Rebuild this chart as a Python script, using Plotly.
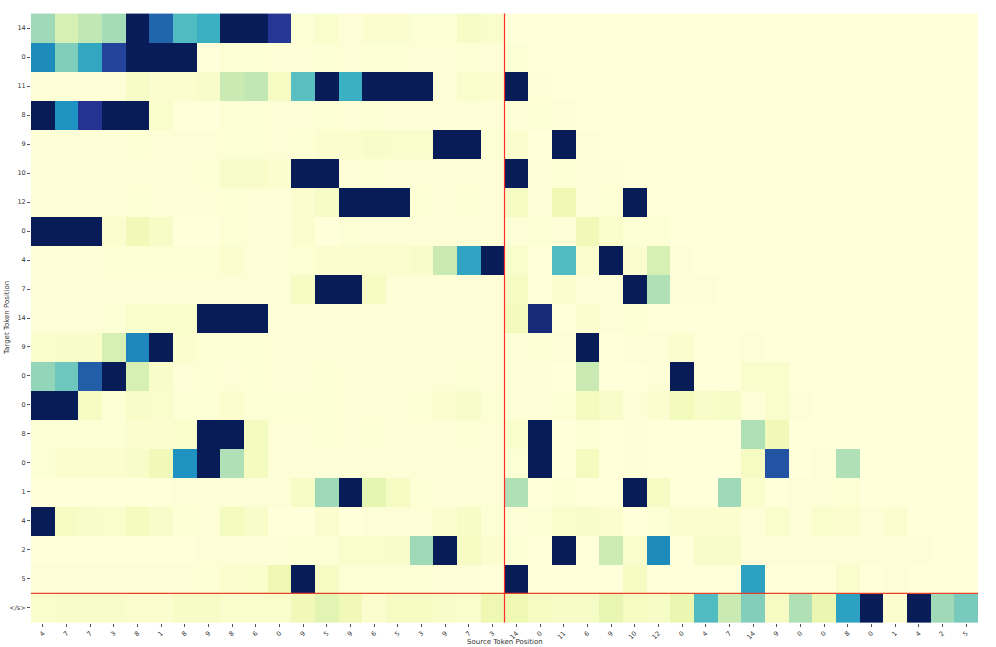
import plotly.graph_objs as go

# source tokens (x) and target tokens (y)
source_labels = ['4', '7', '7', '3', '8', '1', '8', '9', '8', '6',
                 '0', '9', '5', '9', '6', '5', '3', '9', '7', '3',
                 '14', '0', '11', '6', '9', '10', '12', '0', '4', '7',
                 '14', '9', '0', '0', '8', '0', '1', '4', '2', '5']
target_labels = ['14', '0', '11', '8', '9', '10', '12', '0', '4', '7',
                 '14', '9', '0', '0', '8', '0', '1', '4', '2', '5', '&lt;/s&gt;']

# attention weights, one row per target token
weights = [
    [.32, .20, .26, .31, 1, .73, .47, .52, 1, 1, .87, .02, .04, .01, .03, .03, .02, .02, .06, .04] + [0] * 20,
    [.64, .375, .55, .83, 1, 1, 1, 0, .02, .02, .01, .01, .02, .01, .02, .02, .01, .01, .02, .01, .02] + [0] * 19,
    [.01, .01, .01, .01, .06, .03, .03, .05, .24, .26, .07, .45, 1, .52, 1, 1, 1, .01, .04, .03, 1, .01] + [0] * 18,
    [1, .62, .88, 1, 1, .04, 0, 0, .02, .02, .01, .01, .02, .01, .02, .01, .01, .01, .01, .01, .01, .02, .01] + [0] * 17,
    [.01, .01, .01, .01, .02, .01, .01, .01, .02, .02, .01, .02, .03, .03, .05, .04, .04, 1, 1, .02, .03, 0, 1, .01] + [0] * 16,
    [.01, .01, .01, .01, .01, .01, .01, .02, .05, .05, .03, 1, 1, .01, .02, .01, .01, .01, .01, .01, 1, .01, .02, .01, .01] + [0] * 15,
    [.01, .01, .01, .01, .02, .01, .01, .01, .02, .01, .01, .03, .06, 1, 1, 1, .02, .01, .02, .01, .07, .01, .12, .01, .02, 1] + [0] * 14,
    [1, 1, 1, .03, .10, .06, 0, 0, .02, .01, .01, .03, 0, .02, .01, .01, .01, .01, .01, .01, .01, .02, .01, .10, .04, .02, .02] + [0] * 13,
    [.01, .01, .01, .02, .02, .02, .02, .02, .03, .01, .01, .02, .03, .03, .03, .03, .05, .24, .56, 1, .04, 0, .47, .03, 1, .03, .20, .01] + [0] * 12,
    [.01, .01, .01, .01, .01, .01, .01, .01, .01, .01, .01, .07, 1, 1, .07, .01, .01, .01, .01, .01, .07, 0, .03, .01, .01, 1, .29, .01, .01] + [0] * 11,
    [.01, .01, .01, .02, .04, .04, .04, 1, 1, 1, .01, .01, .01, .01, .01, .01, .01, .01, .01, .01, .09, .93, 0, .03, .01, .02] + [0] * 14,
    [.04, .05, .05, .20, .65, 1, .03, .02, .02, .02, .01, .01, .01, .01, .01, .01, .01, .01, .01, .01, .01, .02, .01, 1, 0, .01, .01, .03, 0, 0, .01] + [0] * 9,
    [.34, .41, .75, 1, .20, .05, .01, .02, .01, .02, .01, .01, .02, .01, .01, .01, .01, .01, .02, .01, .01, .01, 0, .24, 0, 0, .01, 1, 0, 0, .04, .04] + [0] * 8,
    [1, 1, .07, .02, .05, .04, .02, .02, .03, .02, .02, .02, .02, .01, .01, .01, .02, .03, .05, .02, .01, .01, .02, .08, .05, .01, .03, .09, .05, .06, .01, .04, .01] + [0] * 7,
    [.02, .02, .02, .02, .03, .03, .04, 1, 1, .08, .01, .01, .02, .01, .02, .01, .01, .01, .02, .01, .04, 1, 0, .02, 0, .01, 0, 0, 0, 0, .29, .10, 0, 0] + [0] * 6,
    [.02, .03, .03, .03, .05, .10, .62, 1, .29, .08, .01, .01, .01, .01, .01, .01, .01, .01, .01, .01, .02, 1, 0, .08, 0, .01, 0, 0, 0, 0, .07, .78, 0, .01, .29] + [0] * 5,
    [0, 0, 0, 0, 0, 0, .01, .01, .01, .01, .01, .06, .32, 1, .15, .07, .02, .01, .01, .01, .29, 0, .02, 0, 0, 1, .07, 0, 0, .32, .04, 0, .01, .01, .02, 0] + [0] * 4,
    [1, .07, .05, .04, .08, .05, .02, .01, .08, .05, 0, 0, .03, 0, .01, .01, .01, .03, .06, .02, .01, .02, .04, .05, .03, 0, .02, .03, .03, .03, .01, .04, .01, .04, .03, .01, .03] + [0] * 3,
    [0, 0, 0, 0, 0, 0, 0, .01, .01, .01, .01, .02, .02, .04, .04, .05, .32, 1, .07, .03, .02, 0, 1, 0, .23, .04, .64, 0, .05, .05, .01, .01, .01, .01, .01, .01, .01, .01] + [0] * 2,
    [.01, .01, .01, .01, .01, .01, .01, .02, .03, .04, .12, 1, .07, .02, .02, .02, .02, .01, .01, 0, 1, 0, 0, 0, 0, .07, 0, 0, 0, 0, .57, 0, 0, 0, .04, 0, .01, 0, 0, 0],
    [.04, .05, .05, .05, .03, .03, .06, .06, .04, .04, .04, .10, .16, .10, .03, .07, .07, .05, .04, .12, .12, .07, .06, .06, .14, .07, .06, .13, .47, .24, .37, .07, .29, .13, .57, 1, .03, 1, .32, .39],
]

ylgnbu = [[0.0, '#ffffd9'], [0.125, '#edf8b1'], [0.25, '#c7e9b4'], [0.375, '#7fcdbb'],
          [0.5, '#41b6c4'], [0.625, '#1d91c0'], [0.75, '#225ea8'], [0.875, '#253494'],
          [1.0, '#081d58']]

cols = list(range(len(source_labels)))
rows = list(range(len(target_labels)))

fig = go.Figure(go.Heatmap(z=weights, x=cols, y=rows, colorscale=ylgnbu,
                           zmin=0, zmax=1, showscale=False))

# separators before the generated part / before </s>
split_col = 19.5
split_row = 19.5
fig.add_shape(type='line', x0=split_col, x1=split_col, y0=-0.5, y1=len(rows) - 0.5,
              line=dict(color='#ff2a2a', width=1.2))
fig.add_shape(type='line', x0=-0.5, x1=len(cols) - 0.5, y0=split_row, y1=split_row,
              line=dict(color='#e8402a', width=1.2))

tick_font = dict(family='DejaVu Sans', size=6.5, color='#333333')
title_font = dict(family='DejaVu Sans', size=7, color='#333333')
fig.update_layout(
    width=996, height=647,
    margin=dict(l=31, r=18, t=13, b=24),
    plot_bgcolor='white', paper_bgcolor='white',
    xaxis=dict(tickvals=cols, ticktext=source_labels, tickangle=-45,
               ticks='outside', ticklen=3, tickcolor='#555', tickfont=tick_font,
               showgrid=False, zeroline=False, automargin=False,
               range=[-0.5, len(cols) - 0.5]),
    yaxis=dict(tickvals=rows, ticktext=target_labels, autorange='reversed',
               ticks='outside', ticklen=3, tickcolor='#555', tickfont=tick_font,
               showgrid=False, zeroline=False, automargin=False),
    annotations=[
        dict(text='Source Token Position', xref='paper', yref='paper', x=0.5, y=0,
             yanchor='middle', yshift=-19, showarrow=False, font=title_font),
        dict(text='Target Token Position', xref='paper', yref='paper', x=0, y=0.5,
             xanchor='center', xshift=-24, textangle=-90, showarrow=False, font=title_font),
    ],
)

# drop the default body margin so the figure fills the window
fig.write_html("out.html", config={'displayModeBar': False},
               post_script="document.body.style.margin='0';")
